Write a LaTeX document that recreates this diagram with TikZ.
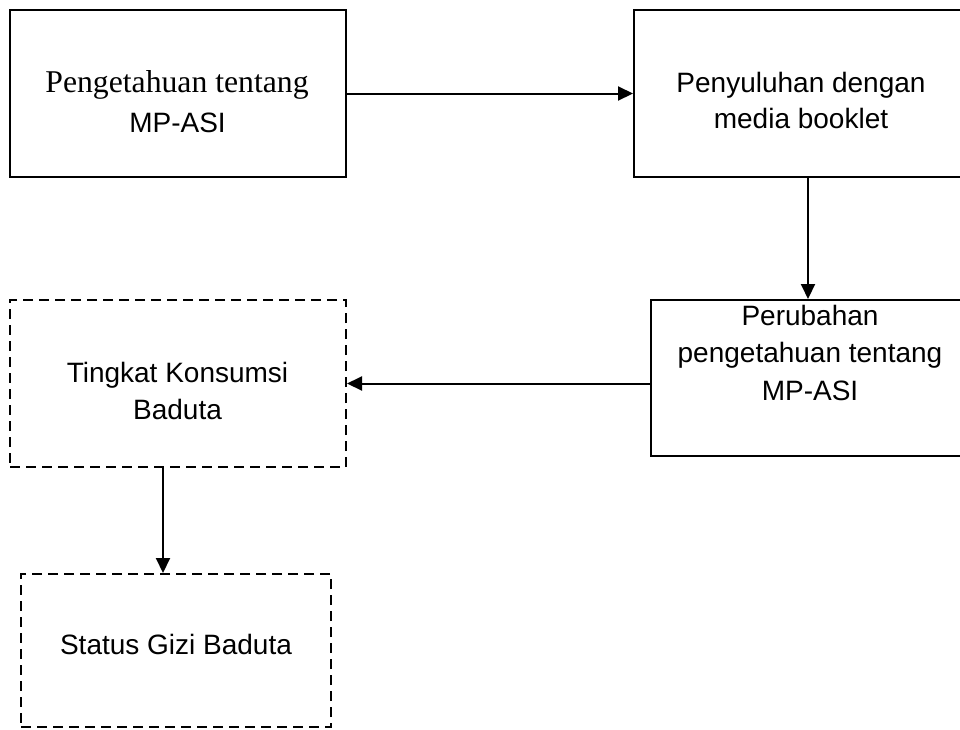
\documentclass[tikz,border=0pt]{standalone}
\usepackage{fontspec}
\setmainfont{Liberation Sans}
\newfontfamily\serifA{Liberation Serif}
\usetikzlibrary{arrows.meta}
\begin{document}
\begin{tikzpicture}[x=1pt,y=-1pt,
  box/.style={draw, line width=2pt, inner sep=0pt},
  dbox/.style={box, dash pattern=on 10pt off 6pt},
  txt/.style={anchor=base, inner sep=0pt, font=\fontsize{28}{38}\selectfont},
  stxt/.style={anchor=base, inner sep=0pt, font=\fontsize{31.7}{38}\selectfont\serifA},
  arr/.style={line width=2pt, -{Triangle[length=15pt,width=14pt]}}]
\useasboundingbox (0,0) rectangle (960,729);
\clip (0,0) rectangle (960,729);
\node[box, minimum width=336pt, minimum height=167pt] (A) at (178,93.5) {};
\node[box, minimum width=328pt, minimum height=167pt] (B) at (798,93.5) {};
\node[box, minimum width=314pt, minimum height=156pt] (C) at (808,378) {};
\node[dbox, minimum width=336pt, minimum height=167pt] (D) at (178,383.5) {};
\node[dbox, minimum width=310pt, minimum height=153pt] (E) at (176,650.5) {};
\node[stxt] (a1) at (177,92) {Pengetahuan tentang};
\node[txt] (a2) at (177.5,132) {MP-ASI};
\node[txt] (b1) at (801,92) {Penyuluhan dengan};
\node[txt] (b2) at (801,128) {media booklet};
\node[txt] (c1) at (810,325) {Perubahan};
\node[txt] (c2) at (810,362) {pengetahuan tentang};
\node[txt] (c3) at (810,400) {MP-ASI};
\node[txt] (d1) at (177.5,382) {Tingkat Konsumsi};
\node[txt] (d2) at (177.5,419) {Baduta};
\node[txt] (e1) at (176,654) {Status Gizi Baduta};
\coordinate (de) at (163,467);
\draw[arr] (A.east) -- (B.west);
\draw[arr] (B.south -| C.north) -- (C.north);
\draw[arr] (C.west |- D.east) -- (D.east);
\draw[arr] (D.south -| de) -- (E.north -| de);
\end{tikzpicture}
\end{document}
